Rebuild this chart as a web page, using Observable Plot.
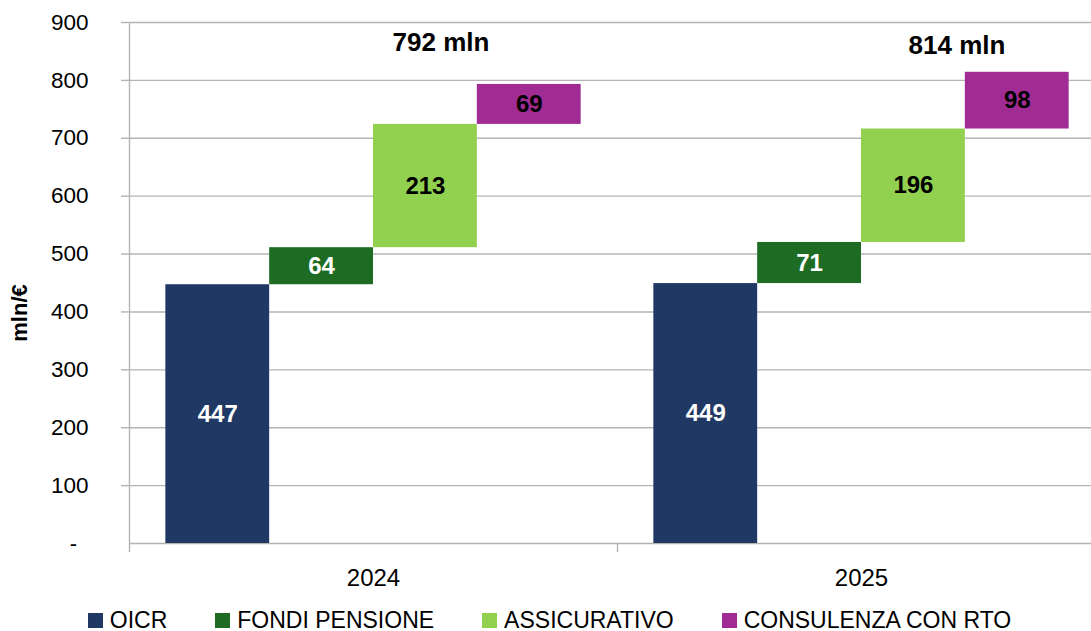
<!DOCTYPE html>
<html>
<head>
<meta charset="utf-8">
<script src="https://cdn.jsdelivr.net/npm/d3@7"></script>
<script src="https://cdn.jsdelivr.net/npm/@observablehq/plot@0.6"></script>
<style>
  html, body { margin: 0; padding: 0; background: #fff; }
  body { font-family: "Liberation Sans", Arial, sans-serif; width: 1091px; overflow: hidden; }
  #chart svg { display: block; overflow: hidden; }
  #legend { height: 31px; margin-top: 5px; display: flex; align-items: center; justify-content: center; gap: 48px; padding-left: 8px; font-size: 23px; color: #000; }
  .item { display: flex; align-items: center; white-space: nowrap; }
  .sw { width: 15px; height: 15px; margin-right: 7px; }
</style>
</head>
<body>
<div id="chart"></div>
<div id="legend"></div>
<script>
// ---- data ----
const years = ["2024", "2025"];
const categories = ["OICR", "FONDI PENSIONE", "ASSICURATIVO", "CONSULENZA CON RTO"];
const values2024 = [447, 64, 213, 69];
const values2025 = [449, 71, 196, 98];
const totalLabels = ["792 mln", "814 mln"];
const yTicks = [0, 100, 200, 300, 400, 500, 600, 700, 800, 900];
const colors = ["#203864", "#1e6b24", "#92d050", "#a02b93"];
const labelColors = ["#ffffff", "#ffffff", "#000000", "#000000"];

// ---- layout helpers (in bar-width units) ----
const PAD = 0.35;                          // outer padding of each group
const GROUP = categories.length + 2 * PAD; // width of a year group
const seriesValues = [values2024, values2025];

const rows = [];
years.forEach((year, g) => {
  let cum = 0;
  seriesValues[g].forEach((v, i) => {
    const x1 = g * GROUP + PAD + i;
    rows.push({year, category: categories[i], i, value: v, x1, x2: x1 + 1, y1: cum, y2: cum + v, labelColor: labelColors[i]});
    cum += v;
  });
});
const yearRows = years.map((year, g) => ({year, x: g * GROUP + GROUP / 2, total: totalLabels[g], g}));
const bounds = d3.range(years.length + 1).map(g => g * GROUP);

const grid = "#b4b4b4";
const font = '"Liberation Sans", Arial, sans-serif';

const chart = Plot.plot({
  width: 1091,
  height: 600,
  marginLeft: 129,
  marginRight: 0,
  marginTop: 22,
  marginBottom: 57,
  x: {type: "linear", domain: [0, GROUP * years.length], range: [129, 129 + 103.83 * GROUP * years.length], axis: null},
  y: {domain: [0, 900], axis: null},
  color: {domain: categories, range: colors},
  style: {fontFamily: font, fontSize: "22px", color: "#000", background: "#fff"},
  marks: [
    Plot.ruleY(yTicks, {stroke: grid, strokeWidth: 1.4}),
    Plot.axisY({ticks: yTicks.filter(d => d > 0), tickSize: 8, tickPadding: 33, stroke: grid, strokeWidth: 1.4, fill: "#000", fontSize: 22.5, label: null, tickFormat: d => String(d)}),
    Plot.text([0], {y: d => d, frameAnchor: "left", dx: -56, textAnchor: "middle", text: () => "-", fontSize: 22, fill: "#000"}),
    Plot.ruleX([0], {y1: 0, y2: 900, stroke: grid, strokeWidth: 1.4}),
    Plot.axisX({ticks: bounds, tickSize: 9, tickFormat: () => "", stroke: grid, strokeWidth: 1.4, label: null}),
    Plot.text(yearRows, {x: "x", y: () => 0, dy: 35, text: "year", fontSize: 24, fill: "#000"}),
    Plot.rectY(rows, {x1: "x1", x2: "x2", y1: "y1", y2: "y2", fill: "category"}),
    Plot.text(rows.filter(d => d.labelColor === "#ffffff"), {x: d => (d.x1 + d.x2) / 2, y: d => (d.y1 + d.y2) / 2, text: d => String(d.value), fill: "#ffffff", fontWeight: "bold", fontSize: 24}),
    Plot.text(rows.filter(d => d.labelColor === "#000000"), {x: d => (d.x1 + d.x2) / 2, y: d => (d.y1 + d.y2) / 2, text: d => String(d.value), fill: "#000000", fontWeight: "bold", fontSize: 24}),
    Plot.text(yearRows.filter(d => d.g === 0), {x: d => d.g * GROUP + 3, frameAnchor: "top", lineAnchor: "middle", dy: 20, text: "total", fontWeight: "bold", fontSize: 26, fill: "#000"}),
    Plot.text(yearRows.filter(d => d.g === 1), {x: d => d.g * GROUP + 3.27, frameAnchor: "top", lineAnchor: "middle", dy: 23, text: "total", fontWeight: "bold", fontSize: 26, fill: "#000"}),
    Plot.text(["mln/€"], {frameAnchor: "left", textAnchor: "middle", lineAnchor: "middle", dx: -110, dy: 30, rotate: -90, text: d => d, fontWeight: "bold", fontSize: 22, fill: "#000"})
  ]
});
document.getElementById("chart").appendChild(chart);

// ---- legend ----
const legend = document.getElementById("legend");
categories.forEach((c, i) => {
  const item = document.createElement("div");
  item.className = "item";
  const sw = document.createElement("span");
  sw.className = "sw";
  sw.style.background = colors[i];
  const t = document.createElement("span");
  t.textContent = c;
  item.appendChild(sw);
  item.appendChild(t);
  legend.appendChild(item);
});
</script>
</body>
</html>
